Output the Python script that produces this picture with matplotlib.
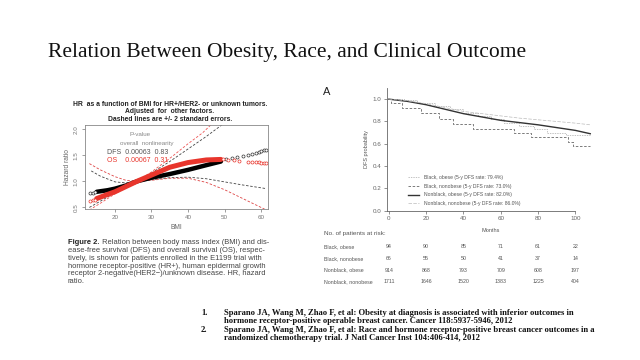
import matplotlib
matplotlib.use('Agg')
import matplotlib.pyplot as plt
import matplotlib.transforms as mtransforms

W, H = 640, 360

# left chart: hazard ratio vs BMI
bmi_ticks = [20, 30, 40, 50, 60]
hr_ticks = [0.5, 1.0, 1.5, 2.0]

dfs_bmi = [15, 18, 20, 23, 26, 30, 35, 40, 45, 49]
dfs_hr = [0.80, 0.83, 0.86, 0.92, 1.0, 1.07, 1.14, 1.22, 1.31, 1.38]
os_bmi = [15, 18, 20, 23, 26, 30, 35, 40, 45, 49]
os_hr = [0.67, 0.75, 0.80, 0.90, 1.0, 1.12, 1.27, 1.36, 1.41, 1.42]

dfs_ci_a_bmi = [13, 16, 20, 23, 26, 30, 35, 40, 45, 50, 53]
dfs_ci_a = [0.50, 0.62, 0.78, 0.89, 1.0, 1.16, 1.38, 1.62, 1.86, 2.12, 2.3]
dfs_ci_b_bmi = [13.5, 16, 20, 23, 26, 30, 35, 40, 45, 50, 55, 61.5]
dfs_ci_b = [1.20, 1.10, 0.99, 0.97, 0.99, 1.03, 1.07, 1.08, 1.05, 0.99, 0.93, 0.86]
os_ci_a_bmi = [13, 16, 20, 23, 26, 30, 35, 40, 44, 48]
os_ci_a = [0.45, 0.58, 0.76, 0.88, 1.0, 1.18, 1.44, 1.72, 1.93, 2.2]
os_ci_b_bmi = [13, 16, 20, 23, 26, 30, 35, 40, 45, 50, 55, 60, 62]
os_ci_b = [1.34, 1.22, 1.09, 1.02, 1.0, 1.02, 1.06, 1.06, 0.98, 0.84, 0.67, 0.50, 0.43]

dfs_circ_bmi = [13.3, 13.9, 14.5, 50.5, 52, 53.5, 55, 56.5, 57.5, 58.5, 59.3, 60, 60.7, 61.3]
dfs_circ_hr = [0.78, 0.785, 0.79, 1.42, 1.44, 1.46, 1.48, 1.51, 1.53, 1.55, 1.57, 1.58, 1.60, 1.61]
os_circ_bmi = [13.3, 13.9, 14.5, 49.5, 51, 52.5, 54, 56.5, 57.5, 58.5, 59.3, 60, 60.7, 61.3]
os_circ_hr = [0.62, 0.635, 0.65, 1.42, 1.41, 1.40, 1.39, 1.38, 1.38, 1.37, 1.37, 1.36, 1.36, 1.36]

# right chart: DFS by race and obesity
km_months = [0, 10, 20, 30, 40, 50, 60, 70, 80, 90, 100, 108]
nonblack_nonobese = [1.0, 0.985, 0.96, 0.925, 0.89, 0.87, 0.85, 0.83, 0.815, 0.80, 0.785, 0.77]
nonblack_obese = [1.0, 0.98, 0.95, 0.91, 0.87, 0.84, 0.81, 0.79, 0.77, 0.745, 0.72, 0.69]
black_obese_t = [0, 8, 15, 25, 33, 40, 48, 55, 62, 70, 78, 85, 95, 108]
black_obese = [1.0, 0.99, 0.97, 0.94, 0.91, 0.88, 0.85, 0.82, 0.79, 0.76, 0.73, 0.70, 0.68, 0.68]
black_nonobese_t = [0, 1, 7, 17, 27, 34.5, 45, 67, 76, 96, 99, 108]
black_nonobese = [1.0, 0.97, 0.92, 0.88, 0.82, 0.78, 0.73, 0.70, 0.66, 0.62, 0.58, 0.58]

risk_rows = ['Black, obese', 'Black, nonobese', 'Nonblack, obese', 'Nonblack, nonobese']
risk_cols = [0, 20, 40, 60, 80, 100]
risk_black_obese = [94, 90, 85, 71, 61, 22]
risk_black_nonobese = [66, 55, 50, 41, 37, 14]
risk_nonblack_obese = [914, 868, 793, 709, 608, 197]
risk_nonblack_nonobese = [1711, 1646, 1520, 1383, 1225, 404]

legend_labels = ['Black, obese (5-y DFS rate: 79.4%)',
                 'Black, nonobese (5-y DFS rate: 73.0%)',
                 'Nonblack, obese (5-y DFS rate: 82.0%)',
                 'Nonblack, nonobese (5-y DFS rate: 86.0%)']

caption = ['ease-free survival (DFS) and overall survival (OS), respec-',
           'tively, is shown for patients enrolled in the E1199 trial with',
           'hormone receptor-positive (HR+), human epidermal growth',
           'receptor 2-negative(HER2\u2212)/unknown disease. HR, hazard',
           'ratio.']

refs = [('1.', 'Sparano JA, Wang M, Zhao F, et al: Obesity at diagnosis is associated with inferior outcomes in'),
        ('', 'hormone receptor-positive operable breast cancer. Cancer 118:5937-5946, 2012'),
        ('2.', 'Sparano JA, Wang M, Zhao F, et al: Race and hormone receptor-positive breast cancer outcomes in a'),
        ('', 'randomized chemotherapy trial. J Natl Cancer Inst 104:406-414, 2012')]


def box(x0, y0, x1, y1):
    # pixel box (top-left origin) -> figure fraction
    return [x0 / W, 1 - y1 / H, (x1 - x0) / W, (y1 - y0) / H]


def fx(x):
    return x / W


def fy(y):
    return 1 - y / H


plt.rcParams['font.family'] = ['Liberation Sans', 'DejaVu Sans']
fig = plt.figure(figsize=(6.4, 3.6), dpi=100)
fig.patch.set_facecolor('white')

fig.text(fx(287.5), fy(52), 'Relation Between Obesity, Race, and Clinical Outcome',
         family='Liberation Serif', fontsize=15.5, ha='center', va='center', color='#111111')

# ---- left chart
ax = fig.add_axes(box(85, 125, 268, 209))
ax.set_xlim(11.8, 61.9)
ax.set_ylim(0.47, 2.08)
red = '#e8352c'
ax.plot(dfs_ci_a_bmi, dfs_ci_a, ls=(0, (3, 2)), lw=0.6, color='#444444')
ax.plot(dfs_ci_b_bmi, dfs_ci_b, ls=(0, (3, 2)), lw=0.6, color='#444444')
ax.plot(os_ci_a_bmi, os_ci_a, ls=(0, (3, 2)), lw=0.6, color='#ee5555')
ax.plot(os_ci_b_bmi, os_ci_b, ls=(0, (3, 2)), lw=0.6, color='#dd4444')
ax.plot(dfs_bmi, dfs_hr, lw=3.2, color='black', solid_capstyle='round')
ax.plot(os_bmi, os_hr, lw=3.6, color=red, solid_capstyle='round')
ax.plot(dfs_circ_bmi, dfs_circ_hr, 'o', ms=2.2, mfc='white', mec='#333333', mew=0.5)
ax.plot(os_circ_bmi, os_circ_hr, 'o', ms=2.2, mfc='white', mec=red, mew=0.5)
for s in ax.spines.values():
    s.set_color('#888888')
    s.set_linewidth(0.6)
ax.set_xticks(bmi_ticks)
ax.set_yticks(hr_ticks)
ax.set_yticklabels([f'{v:.1f}' for v in hr_ticks], rotation=90, va='center')
ax.tick_params(labelsize=4.5, colors='#777777', length=2.5, width=0.5, pad=2)
ax.set_xlabel('BMI', fontsize=4.8, color='#666666', labelpad=3)
ax.set_ylabel('Hazard ratio', fontsize=4.8, color='#666666', labelpad=2)
ax.text(24, 1.87, 'P-value', fontsize=4.5, color='#888888')
ax.text(21.5, 1.70, 'overall  nonlinearity', fontsize=4.5, color='#888888')
ax.text(17.8, 1.55, 'DFS  0.00063  0.83', fontsize=5, color='#555555', va='center')
ax.text(17.8, 1.40, 'OS    0.00067  0.31', fontsize=5, color=red, va='center')

ltitle = ['HR  as a function of BMI for HR+/HER2- or unknown tumors.',
          'Adjusted  for  other factors.',
          'Dashed lines are +/- 2 standard errors.']
for i, t in enumerate(ltitle):
    fig.text(fx(170), fy(104.5 + i * 7.4), t, fontsize=4.85, fontweight='bold',
             ha='center', va='center', color='#222222')

fig2 = fig.text(fx(68), fy(243), 'Figure 2.', fontsize=5.4, fontweight='bold',
                va='center', color='#222222')
ax.annotate(' Relation between body mass index (BMI) and dis-', xy=(1, 0.5),
            xycoords=fig2, fontsize=5.4, va='center', color='#444444')
for i, t in enumerate(caption):
    fig.text(fx(68), fy(250.8 + i * 7.6), t, fontsize=5.4, va='center', color='#444444')

# ---- right chart
ax2 = fig.add_axes(box(387, 88, 594, 210.7))
ax2.set_xlim(-1, 110)
ax2.set_ylim(0, 1.1)
ax2.plot(black_obese_t, black_obese, drawstyle='steps-post', lw=0.5,
         ls=(0, (2, 1.5)), color='#aaaaaa', label=legend_labels[0])
ax2.plot(black_nonobese_t, black_nonobese, drawstyle='steps-post', lw=0.6,
         ls=(0, (3, 2)), color='#666666', label=legend_labels[1])
ax2.plot(km_months, nonblack_obese, lw=1.0, color='#333333', label=legend_labels[2])
ax2.plot(km_months, nonblack_nonobese, lw=0.5, ls=(0, (5, 2)), color='#bbbbbb',
         label=legend_labels[3])
for s in ['top', 'right']:
    ax2.spines[s].set_visible(False)
ax2.spines['bottom'].set_bounds(-1, 100)
for s in ['left', 'bottom']:
    ax2.spines[s].set_color('#666666')
    ax2.spines[s].set_linewidth(0.6)
ax2.set_xticks(risk_cols)
ax2.set_yticks([0.0, 0.2, 0.4, 0.6, 0.8, 1.0])
ax2.set_yticklabels(['0.0', '0.2', '0.4', '0.6', '0.8', '1.0'])
ax2.tick_params(labelsize=4.5, colors='#666666', length=2, width=0.5, pad=2)
ax2.set_xlabel('Months', fontsize=4, color='#555555', labelpad=5)
ax2.set_ylabel('DFS probability', fontsize=4, color='#555555', labelpad=3)
ax2.legend(loc='lower left', bbox_to_anchor=(0.08, 0.0), frameon=False, fontsize=3.6,
           handlelength=2.2, handletextpad=1.0, labelspacing=0.75, labelcolor='#555555')
fig.text(fx(323), fy(92), 'A', fontsize=8, va='center', color='#222222')

fig.text(fx(324), fy(233), 'No. of patients at risk:', fontsize=4.6, va='center', color='#555555')
tr = mtransforms.blended_transform_factory(ax2.transData, fig.transFigure)
risk_vals = [risk_black_obese, risk_black_nonobese, risk_nonblack_obese, risk_nonblack_nonobese]
for i, (name, vals) in enumerate(zip(risk_rows, risk_vals)):
    y = fy(246.7 + i * 11.7)
    fig.text(fx(324), y, name, fontsize=3.8, va='center', color='#555555')
    for m, v in zip(risk_cols, vals):
        ax2.text(m, y, str(v), transform=tr, fontsize=3.8, ha='center', va='center',
                 color='#555555')

# ---- references
for i, (num, t) in enumerate(refs):
    y = fy(313 + i * 8.4)
    if num:
        fig.text(fx(201), y, num, family='Liberation Serif', fontweight='bold',
                 fontsize=6.2, va='center', color='#111111')
    fig.text(fx(224), y, t, family='Liberation Serif', fontweight='bold',
             fontsize=6.2, va='center', color='#111111')

fig.savefig('out.png', dpi=100, facecolor='white')
